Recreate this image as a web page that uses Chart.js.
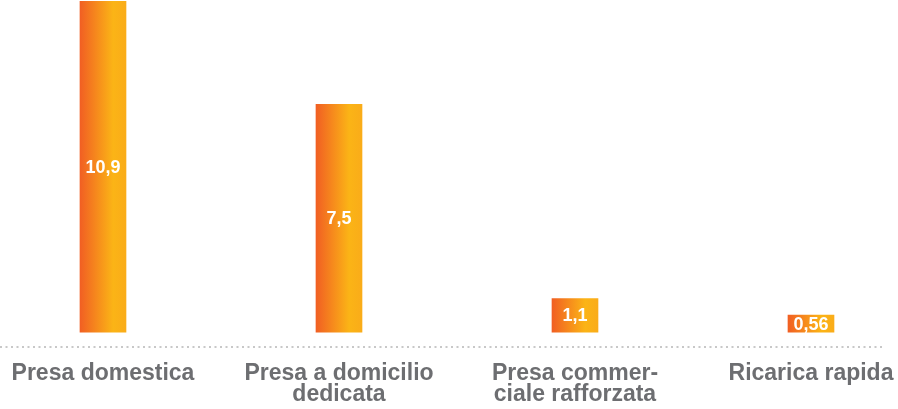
<!DOCTYPE html>
<html lang="it">
<head>
    <meta charset="UTF-8">
    <title>Tipi di ricarica</title>
    <script src="https://cdn.jsdelivr.net/npm/chart.js"></script>
    <style>
        body {
            margin: 0;
            padding: 0;
            background: #ffffff;
        }
        .chart-box {
            width: 898px;
            height: 409px;
            position: relative;
        }
    </style>
</head>
<body>
    <div class="chart-box">
        <canvas id="chargeChart"></canvas>
    </div>

    <script>
        // categories (multi-line as in the original)
        const categories = [
            ['Presa domestica'],
            ['Presa a domicilio', 'dedicata'],
            ['Presa commer-', 'ciale rafforzata'],
            ['Ricarica rapida']
        ];
        const values = [10.9, 7.5, 1.1, 0.56];
        const valueLabels = ['10,9', '7,5', '1,1', '0,56'];

        const BAR_W = 46;
        const FONT = '"Liberation Sans", Arial, sans-serif';

        function barGradient(context) {
            const chart = context.chart;
            if (!chart.chartArea || context.type !== 'data') {
                return '#f7941d';
            }
            const x = chart.scales.x.getPixelForValue(context.dataIndex);
            const g = chart.ctx.createLinearGradient(x - BAR_W / 2, 0, x + BAR_W / 2, 0);
            g.addColorStop(0, '#f15f23');
            g.addColorStop(0.72, '#fbb416');
            g.addColorStop(1, '#faac19');
            return g;
        }

        // dotted base line, category names under it, values inside the bars
        const decorations = {
            id: 'decorations',
            afterDatasetsDraw(chart) {
                const c = chart.ctx;
                const area = chart.chartArea;
                const xs = chart.scales.x;
                const meta = chart.getDatasetMeta(0);
                c.save();

                // dotted line
                c.strokeStyle = '#c8c8c8';
                c.lineWidth = 2;
                c.setLineDash([2, 3.5]);
                c.beginPath();
                c.moveTo(area.left, area.bottom);
                c.lineTo(area.right, area.bottom);
                c.stroke();
                c.setLineDash([]);

                // category labels
                c.fillStyle = '#6d6e71';
                c.font = 'bold 23px ' + FONT;
                c.textAlign = 'center';
                c.textBaseline = 'middle';
                categories.forEach((lines, i) => {
                    const x = xs.getPixelForValue(i);
                    lines.forEach((line, k) => {
                        c.fillText(line, x, area.bottom + 27 + k * 21);
                    });
                });

                // values
                c.fillStyle = '#ffffff';
                c.font = 'bold 18px ' + FONT;
                meta.data.forEach((bar, i) => {
                    const mid = (bar.y + bar.base) / 2;
                    c.fillText(valueLabels[i], bar.x, mid + 1);
                });
                c.restore();
            }
        };

        const ctx = document.getElementById('chargeChart').getContext('2d');
        new Chart(ctx, {
            type: 'bar',
            data: {
                datasets: [{
                    data: values.map((v, i) => ({ x: i, y: v })),
                    backgroundColor: barGradient,
                    borderWidth: 0,
                    barThickness: BAR_W
                }]
            },
            options: {
                responsive: true,
                maintainAspectRatio: false,
                animation: false,
                layout: {
                    padding: { top: 1, left: 0, right: 13, bottom: 62 }
                },
                plugins: {
                    legend: { display: false },
                    tooltip: { enabled: false }
                },
                scales: {
                    x: {
                        type: 'linear',
                        display: false,
                        offset: false,
                        min: -0.4364,
                        max: 3.3136
                    },
                    y: {
                        display: false,
                        min: -0.49,
                        max: 10.9
                    }
                }
            },
            plugins: [decorations]
        });
    </script>
</body>
</html>
